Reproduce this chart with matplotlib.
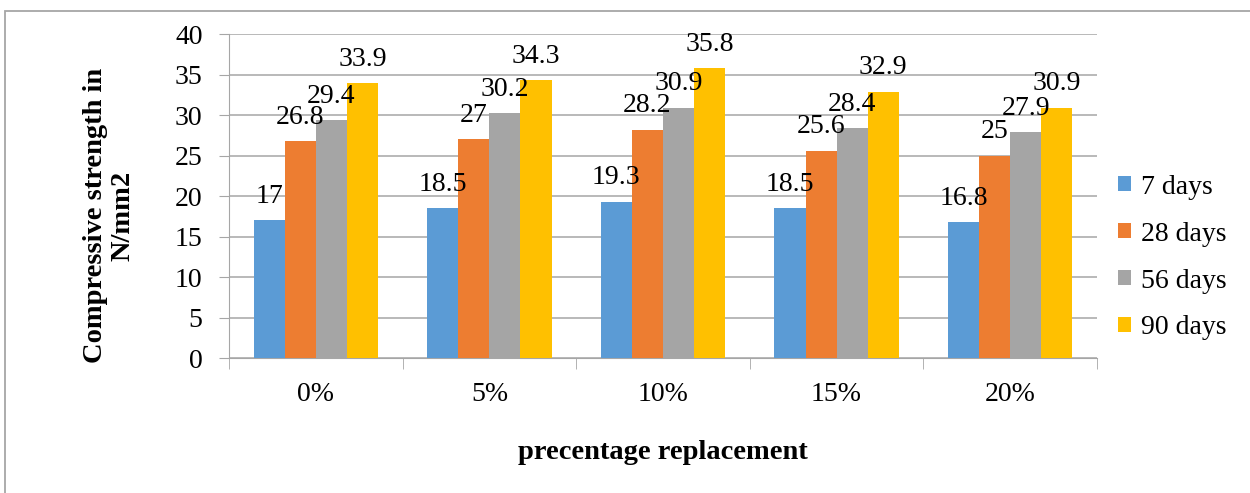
import numpy as np
import matplotlib.pyplot as plt
from matplotlib.patches import Rectangle

plt.rcParams['font.family'] = ['Liberation Serif', 'DejaVu Serif']

categories = ['0%', '5%', '10%', '15%', '20%']
series_names = ['7 days', '28 days', '56 days', '90 days']
d7 = [17, 18.5, 19.3, 18.5, 16.8]
d28 = [26.8, 27, 28.2, 25.6, 25]
d56 = [29.4, 30.2, 30.9, 28.4, 27.9]
d90 = [33.9, 34.3, 35.8, 32.9, 30.9]
labels7 = ['17', '18.5', '19.3', '18.5', '16.8']
labels28 = ['26.8', '27', '28.2', '25.6', '25']
labels56 = ['29.4', '30.2', '30.9', '28.4', '27.9']
labels90 = ['33.9', '34.3', '35.8', '32.9', '30.9']

colors = ['#5B9BD5', '#ED7D31', '#A5A5A5', '#FFC000']
grey = '#a6a6a6'
fs = 20

fig = plt.figure(figsize=(12.5, 4.93), dpi=100)
ax = fig.add_axes([0.1832, 0.2738, 0.6944, 0.6572])

# outer chart border (bottom/right run off the canvas)
fig.patches.append(Rectangle((0.004, -0.1), 1.2, 1.078, transform=fig.transFigure,
                             fill=False, edgecolor=grey, linewidth=1.3))

x = np.arange(len(categories))
w = 0.179
series = [d7, d28, d56, d90]
lbls = [labels7, labels28, labels56, labels90]
for i, (vals, lab) in enumerate(zip(series, lbls)):
    pos = x + (i - 1.5) * w
    ax.bar(pos, vals, width=w, color=colors[i], label=series_names[i], zorder=3)
    for px, v, t in zip(pos, vals, lab):
        ax.annotate(t, (px, v), xytext=(0, 12.5), textcoords='offset points',
                    ha='center', va='baseline', fontsize=fs, zorder=4)

ax.set_xlim(-0.5, 4.5)
ax.set_ylim(0, 40)
ax.set_yticks(range(0, 41, 5))
ax.set_xticks(x)
ax.set_xticklabels(categories, fontsize=fs)
ax.tick_params(axis='x', length=0, pad=17)
ax.set_xticks(np.arange(-0.5, 5, 1), minor=True)
ax.tick_params(axis='x', which='minor', length=8, color=grey, direction='out')
ax.tick_params(axis='y', labelsize=fs, length=7, color=grey, pad=12)
ax.grid(axis='y', color=grey, linewidth=1.1, zorder=0)
for s in ['top', 'right']:
    ax.spines[s].set_visible(False)
ax.spines['left'].set_color(grey)
ax.spines['bottom'].set_color(grey)

ax.set_ylabel('Compressive strength in\nN/mm2', fontsize=20.5, fontweight='bold',
              linespacing=1.1)
ax.yaxis.set_label_coords(-0.108, 0.44)
ax.set_xlabel('precentage replacement', fontsize=20.5, fontweight='bold', labelpad=24)

ax.legend(loc='center left', bbox_to_anchor=(1.024, 0.31), frameon=False, fontsize=fs,
          handlelength=0.47, handleheight=0.47, handletextpad=0.35, labelspacing=0.79,
          borderpad=0, borderaxespad=0)

fig.savefig('out.png', dpi=100)
